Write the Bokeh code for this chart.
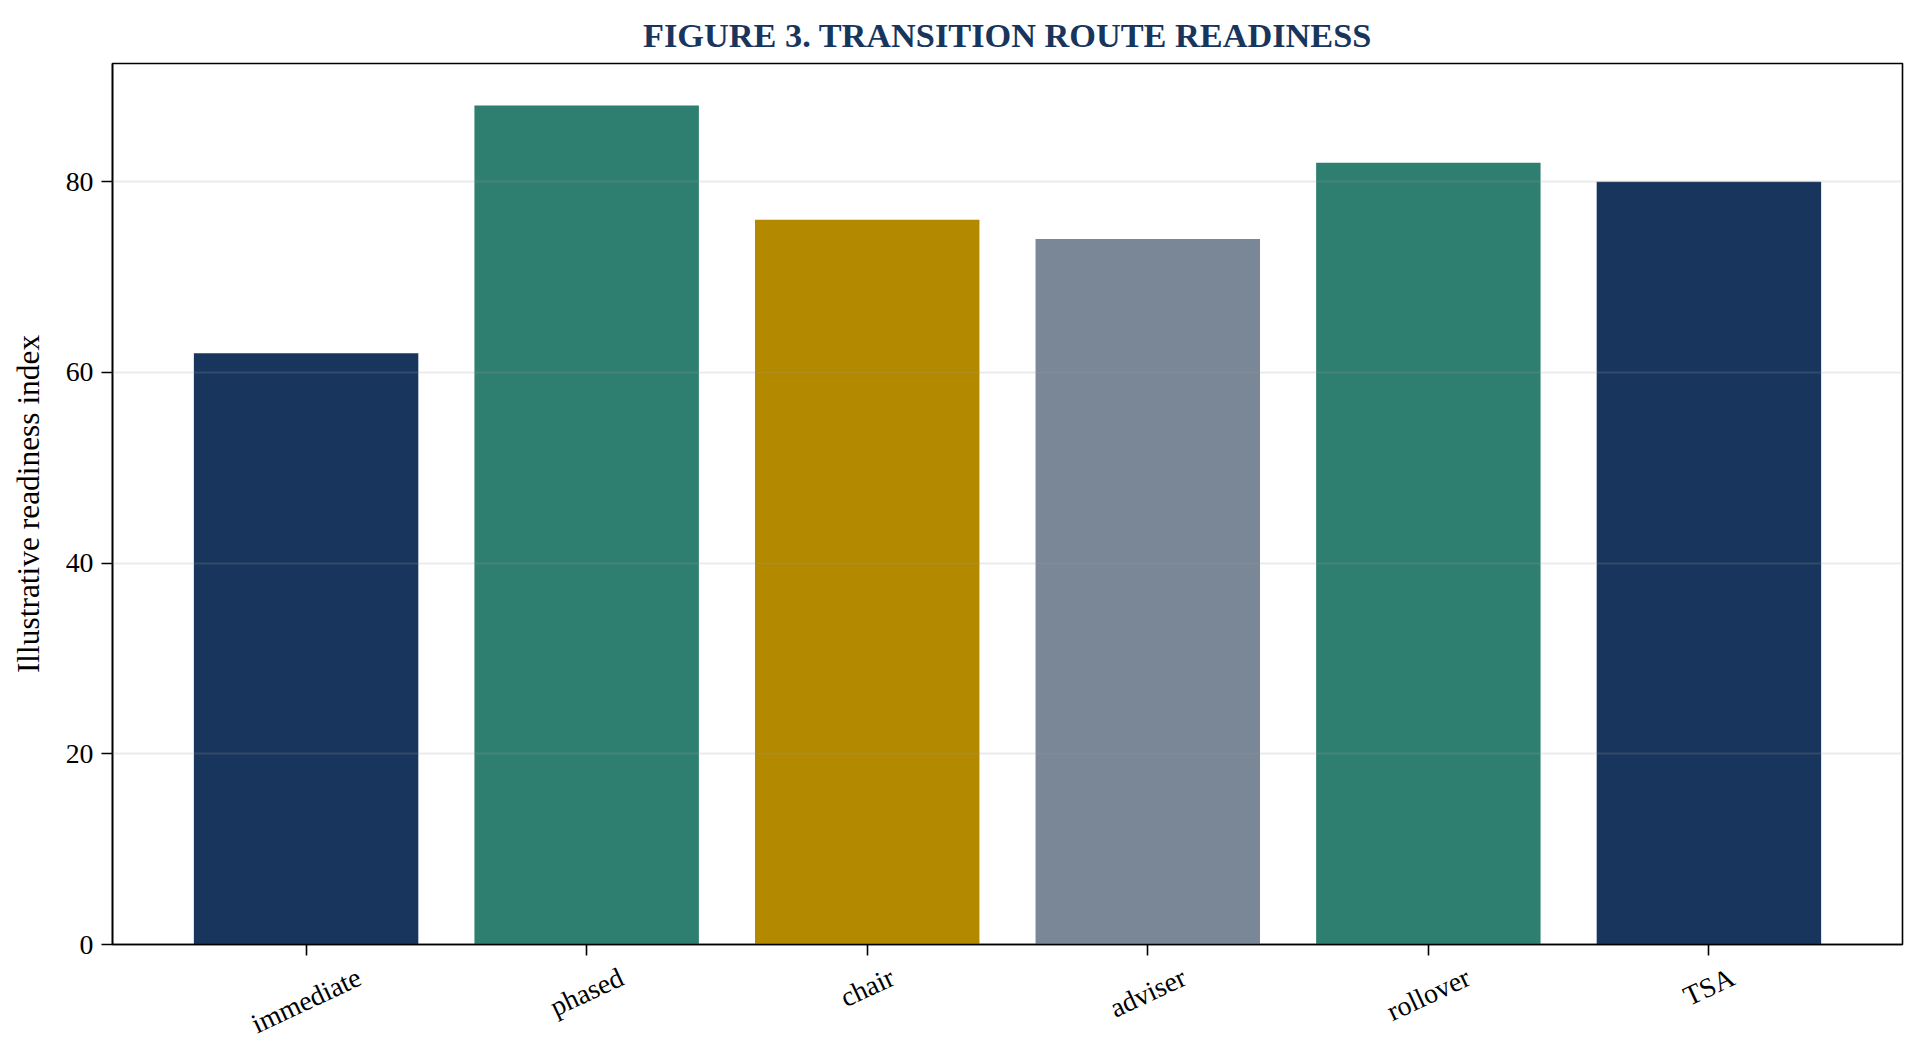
import math
from bokeh.plotting import figure
from bokeh.models import Range1d, FixedTicker
from bokeh.embed import file_html
from bokeh.resources import INLINE

categories = ["immediate", "phased", "chair", "adviser", "rollover", "TSA"]
values = [62, 88, 76, 74, 82, 80]
colors = ["#18365d", "#2e7f6f", "#b38900", "#7a8797", "#2e7f6f", "#18365d"]
y_ticks = [0, 20, 40, 60, 80]

FONT = "Liberation Serif"
TICK_PX = 27.8
ANGLE = 25
FRAME_W = 1790
xs = list(range(len(categories)))
x_start, x_end = -0.69, len(categories) - 1 + 0.69

# approximate Times advance widths (em): rotated labels are centred on their tick like matplotlib
_W = {"i": .278, "m": .778, "e": .444, "d": .5, "a": .444, "t": .278, "p": .5, "h": .5,
      "s": .389, "c": .444, "r": .333, "v": .5, "o": .5, "l": .278, "T": .611, "S": .556, "A": .722}


def text_width(s):
    return sum(_W.get(ch, .5) for ch in s) * TICK_PX


px_per_unit = FRAME_W / (x_end - x_start)
a = math.radians(ANGLE)
label_pos = [round(x + text_width(n) / 2 * math.cos(a) / px_per_unit, 4)
             for x, n in zip(xs, categories)]

p = figure(width=1916, height=1056, output_backend="svg", toolbar_location=None,
           x_range=Range1d(x_start, x_end),
           y_range=Range1d(0, max(values) * 1.05),
           min_border_left=112, min_border_right=14, min_border_top=63, min_border_bottom=100)

p.vbar(x=xs, top=values, bottom=0, width=0.8, fill_color=colors, line_color=None)

p.title.text = "FIGURE 3. TRANSITION ROUTE READINESS"
p.title.align = "center"
p.title.text_font = FONT
p.title.text_font_size = "34.3px"
p.title.text_font_style = "bold"
p.title.text_color = "#18365d"
p.title.standoff = 20

p.outline_line_color = "black"
p.outline_line_width = 1.6
p.outline_line_alpha = 1.0

p.xgrid.visible = False
p.ygrid.ticker = FixedTicker(ticks=y_ticks)
p.ygrid.grid_line_color = "#999999"
p.ygrid.grid_line_alpha = 0.2
p.ygrid.grid_line_width = 2
p.ygrid.level = "overlay"

p.yaxis.ticker = FixedTicker(ticks=y_ticks)
p.yaxis.axis_label = "Illustrative readiness index"
p.yaxis.axis_label_text_font = FONT
p.yaxis.axis_label_text_font_size = "31.4px"
p.yaxis.axis_label_text_font_style = "normal"
p.yaxis.axis_label_text_color = "black"
p.yaxis.axis_label_standoff = 17
p.yaxis.major_label_text_font = FONT
p.yaxis.major_label_text_font_size = f"{TICK_PX}px"
p.yaxis.major_label_text_color = "black"
p.yaxis.major_label_standoff = 8
p.yaxis.axis_line_color = "black"
p.yaxis.axis_line_width = 1.6
p.yaxis.major_tick_line_color = "black"
p.yaxis.major_tick_line_width = 1.6
p.yaxis.major_tick_out = 11
p.yaxis.major_tick_in = 0
p.yaxis.minor_tick_line_color = None

# x axis: tick marks at the bar centres (drawn as the ticker's minor ticks),
# category names as the major labels, rotated 25 degrees and centred on each tick
xa = p.xaxis[0]
xa.ticker = FixedTicker(ticks=label_pos, minor_ticks=xs)
xa.major_label_overrides = {pos: name for pos, name in zip(label_pos, categories)}
xa.major_label_orientation = math.radians(ANGLE)
xa.major_label_text_font = FONT
xa.major_label_text_font_size = f"{TICK_PX}px"
xa.major_label_text_color = "black"
xa.major_label_standoff = 20
xa.major_tick_line_color = None
xa.major_tick_out = 0
xa.major_tick_in = 0
xa.minor_tick_line_color = "black"
xa.minor_tick_line_width = 1.6
xa.minor_tick_out = 11
xa.minor_tick_in = 0
xa.axis_line_color = "black"
xa.axis_line_width = 1.6

open("out.html", "w").write(file_html(p, INLINE))
